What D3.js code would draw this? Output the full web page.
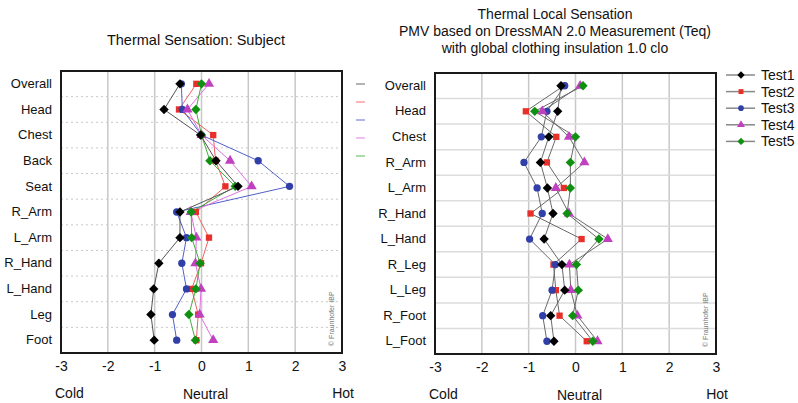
<!DOCTYPE html>
<html>
<head>
<meta charset="utf-8">
<script src="https://cdn.jsdelivr.net/npm/d3@7"></script>
<style>
  body { margin: 0; background: #fff; }
  svg { font-family: "Liberation Sans", Arial, sans-serif; }
</style>
</head>
<body>
<svg width="798" height="403"></svg>
<script>
// left chart: subject votes
var rowsLeft = ["Overall", "Head", "Chest", "Back", "Seat", "R_Arm", "L_Arm", "R_Hand", "L_Hand", "Leg", "Foot"]
var subj1 = [-0.46, -0.80, -0.02, 0.31, 0.78, -0.46, -0.46, -0.91, -1.02, -1.08, -1.01]
var subj2 = [-0.11, -0.48, 0.25, 0.30, 0.51, -0.12, 0.16, -0.01, -0.21, -0.07, -0.11]
var subj3 = [-0.43, -0.41, 0.00, 1.21, 1.88, -0.53, -0.32, -0.42, -0.32, -0.62, -0.53]
var subj4 = [0.16, -0.30, 0.00, 0.61, 1.07, -0.23, -0.11, -0.13, -0.01, -0.04, 0.25]
var subj5 = [0.00, -0.12, 0.00, 0.18, 0.72, -0.22, -0.21, -0.03, -0.12, -0.27, -0.13]

// right chart: PMV from DressMAN
var rowsRight = ["Overall", "Head", "Chest", "R_Arm", "L_Arm", "R_Hand", "L_Hand", "R_Leg", "L_Leg", "R_Foot", "L_Foot"]
var pmv1 = [-0.31, -0.38, -0.57, -0.75, -0.60, -0.48, -0.67, -0.29, -0.23, -0.53, -0.46]
var pmv2 = [-0.25, -1.06, -0.41, -0.61, -0.25, -0.96, 0.13, -0.47, -0.42, -0.34, 0.24]
var pmv3 = [-0.23, -0.61, -0.73, -1.10, -0.82, -0.71, -0.98, -0.43, -0.50, -0.70, -0.61]
var pmv4 = [0.10, -0.71, -0.14, 0.19, -0.42, -0.14, 0.69, -0.13, -0.10, 0.04, 0.47]
var pmv5 = [0.16, -0.87, 0.00, -0.11, -0.11, -0.18, 0.50, 0.02, 0.06, -0.06, 0.37]

var testNames = ["Test1", "Test2", "Test3", "Test4", "Test5"]
var xTicks = [-3, -2, -1, 0, 1, 2, 3]

var markerColor = ["#000000", "#e8302a", "#3040a8", "#c040c0", "#109010"]
var lineColorLeft = ["#555555", "#f06060", "#5060c8", "#e070e0", "#40b040"]
// diamonds are squares turned by 45 degrees
var shapes = [d3.symbolSquare, d3.symbolSquare, d3.symbolCircle, d3.symbolTriangle, d3.symbolSquare]
var turn = [45, 0, 0, 0, 45]
var shapeSize = [44, 40, 42, 45, 44]

var svg = d3.select("svg")

function drawPanel(opt){
  var x = d3.scaleLinear().domain([-3, 3]).range([opt.left, opt.right])
  var y = d3.scaleBand().domain(opt.rows).range([opt.top, opt.bottom])
  var g = svg.append("g")

  // vertical grid
  g.selectAll(".vg").data(xTicks.slice(1, -1)).enter().append("line")
    .attr("x1", function(d){ return x(d) }).attr("x2", function(d){ return x(d) })
    .attr("y1", opt.top).attr("y2", opt.bottom)
    .attr("stroke", "#c8c8c8").attr("stroke-width", 1.5)

  // horizontal grid between rows
  g.selectAll(".hg").data(opt.rows.slice(1)).enter().append("line")
    .attr("x1", opt.left).attr("x2", opt.right)
    .attr("y1", function(d){ return y(d) }).attr("y2", function(d){ return y(d) })
    .attr("stroke", opt.dotted ? "#c8c8c8" : "#dcdcdc")
    .attr("stroke-width", opt.dotted ? 1 : 1.5)
    .attr("stroke-dasharray", opt.dotted ? "2,3" : null)

  // row labels
  var ya = g.append("g").attr("transform", "translate(" + (opt.left - 9) + ",0)")
    .call(d3.axisLeft(y).tickSize(0).tickPadding(0))
  ya.select(".domain").remove()
  ya.selectAll("text").attr("font-size", 13).attr("fill", "#111").attr("font-family", null)

  // x tick labels
  var xa = g.append("g").attr("transform", "translate(0," + (opt.bottom + 8) + ")")
    .call(d3.axisBottom(x).tickValues(xTicks).tickSize(0).tickPadding(0)
      .tickFormat(function(d){ return String(d) }))
  xa.select(".domain").remove()
  xa.selectAll("text").attr("font-size", 14).attr("fill", "#111").attr("font-family", null)

  // Cold / Neutral / Hot
  g.append("text").attr("x", opt.left - 6).attr("y", opt.bottom + 45).attr("font-size", 14)
    .attr("fill", "#111").text("Cold")
  g.append("text").attr("x", x(0) + 4).attr("y", opt.bottom + 46).attr("font-size", 14)
    .attr("fill", "#111").attr("text-anchor", "middle").text("Neutral")
  g.append("text").attr("x", opt.right + 12).attr("y", opt.bottom + 45).attr("font-size", 14)
    .attr("fill", "#111").attr("text-anchor", "end").text("Hot")

  // series
  var line = d3.line()
    .x(function(d){ return x(d.v) })
    .y(function(d){ return y(d.r) + y.bandwidth() / 2 })

  var order = [1, 2, 3, 4, 0]
  order.forEach(function(i){
    var pts = opt.series[i].map(function(v, k){ return {r: opt.rows[k], v: v} })
    g.append("path").datum(pts)
      .attr("fill", "none")
      .attr("stroke", opt.grayLines ? "#6a6a6a" : lineColorLeft[i])
      .attr("stroke-width", 1)
      .attr("d", line)
  })
  order.forEach(function(i){
    var pts = opt.series[i].map(function(v, k){ return {r: opt.rows[k], v: v} })
    g.selectAll(".m" + i).data(pts).enter().append("path")
      .attr("transform", function(d){
        return "translate(" + x(d.v) + "," + (y(d.r) + y.bandwidth() / 2) + ") rotate(" + turn[i] + ")"
      })
      .attr("d", d3.symbol().type(shapes[i]).size(shapeSize[i]))
      .attr("fill", markerColor[i])
  })

  // frame
  g.append("rect").attr("x", opt.left).attr("y", opt.top)
    .attr("width", opt.right - opt.left).attr("height", opt.bottom - opt.top)
    .attr("fill", "none").attr("stroke", "#1a1a1a").attr("stroke-width", 2)

  // watermark
  g.append("text")
    .attr("transform", "translate(" + (opt.right - 8) + "," + (opt.bottom - 7) + ") rotate(-90)")
    .attr("font-size", 7).attr("fill", "#777").text("© Fraunhofer IBP")

  return g
}

drawPanel({left: 61, right: 342, top: 71, bottom: 353, rows: rowsLeft,
  series: [subj1, subj2, subj3, subj4, subj5], dotted: true, grayLines: false})

drawPanel({left: 435, right: 716, top: 73, bottom: 354, rows: rowsRight,
  series: [pmv1, pmv2, pmv3, pmv4, pmv5], dotted: false, grayLines: true})

// titles
svg.append("text").attr("x", 196).attr("y", 45).attr("text-anchor", "middle")
  .attr("font-size", 14.5).attr("fill", "#111").text("Thermal Sensation: Subject")
var rightTitle = ["Thermal Local Sensation", "PMV based on DressMAN 2.0 Measurement (Teq)", "with global clothing insulation 1.0 clo"]
svg.selectAll(".rt").data(rightTitle).enter().append("text")
  .attr("x", 555).attr("y", function(d, i){ return 19 + i * 17 })
  .attr("text-anchor", "middle").attr("font-size", 14).attr("fill", "#111")
  .text(function(d){ return d })

// left chart: colour keys without labels
svg.selectAll(".lk").data(lineColorLeft).enter().append("line")
  .attr("x1", 356).attr("x2", 365)
  .attr("y1", function(d, i){ return 84 + i * 18 }).attr("y2", function(d, i){ return 84 + i * 18 })
  .attr("stroke", function(d){ return d }).attr("stroke-opacity", 0.6).attr("stroke-width", 1.5)

// right chart legend
var leg = svg.selectAll(".leg").data(testNames).enter().append("g")
  .attr("transform", function(d, i){ return "translate(726," + (75 + i * 16.6) + ")" })
leg.append("line").attr("x1", 0).attr("x2", 29).attr("stroke", "#888").attr("stroke-width", 1.5)
leg.append("path")
  .attr("transform", function(d, i){ return "translate(15,0) rotate(" + turn[i] + ")" })
  .attr("d", function(d, i){ return d3.symbol().type(shapes[i]).size(shapeSize[i] * 0.6)() })
  .attr("fill", function(d, i){ return markerColor[i] })
leg.append("text").attr("x", 35).attr("y", 5).attr("font-size", 14).attr("fill", "#111")
  .text(function(d){ return d })
</script>
</body>
</html>
